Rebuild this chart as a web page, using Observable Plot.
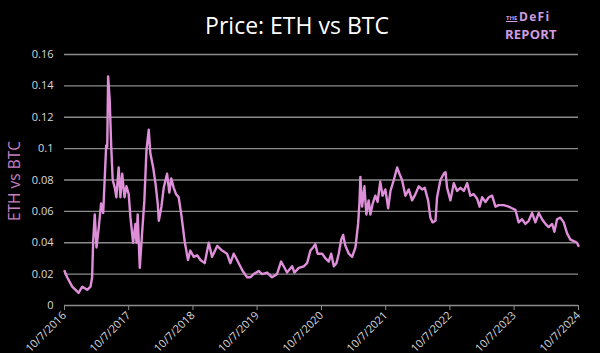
<!DOCTYPE html>
<html>
<head>
<meta charset="utf-8">
<script src="https://cdn.jsdelivr.net/npm/d3@7"></script>
<script src="https://cdn.jsdelivr.net/npm/@observablehq/plot@0.6"></script>
<style>
  html, body { margin: 0; padding: 0; background: #000; }
  #wrap { position: relative; width: 600px; height: 353px; background: #000; overflow: hidden; }
  #title { position: absolute; left: 0; width: 594px; top: 9px; text-align: center; color: #fff;
           font-family: "Open Sans", sans-serif; font-size: 23px; line-height: normal; }
  #ylab { position: absolute; left: 14px; top: 181px; transform: translate(-50%, -50%) rotate(-90deg);
          color: #c87fc2; font-family: "Open Sans", sans-serif; font-size: 15.5px; white-space: nowrap; }
  .logo { position: absolute; color: #cf9de0; font-family: "Open Sans", sans-serif; font-weight: 700;
          line-height: 1; white-space: nowrap; }
  #logoThe { left: 506px; top: 15px; font-size: 6px; text-decoration: underline; }
  #logoDefi { left: 519px; top: 11px; font-size: 12px; letter-spacing: 1.3px; }
  #logoReport { left: 505px; top: 28px; font-size: 13px; letter-spacing: 0.2px; }
  #chart { position: absolute; left: 0; top: 0; }
</style>
</head>
<body>
<div id="wrap">
  <div id="chart"></div>
  <div id="title">Price: ETH vs BTC</div>
  <div id="ylab">ETH vs BTC</div>
  <div class="logo" id="logoThe">THE</div>
  <div class="logo" id="logoDefi">DeFi</div>
  <div class="logo" id="logoReport">REPORT</div>
</div>
<script>
const dates = [
"2016-10-07","2016-10-22","2016-11-20","2016-12-26","2017-01-16","2017-02-13","2017-03-04","2017-03-13",
"2017-03-19","2017-03-28","2017-04-07","2017-04-20","2017-05-03","2017-05-15","2017-05-24","2017-06-01",
"2017-06-07","2017-06-12","2017-06-21","2017-06-29","2017-07-08","2017-07-20","2017-07-29","2017-08-11",
"2017-08-21","2017-08-31","2017-09-13","2017-09-24","2017-10-07","2017-10-17","2017-11-01","2017-11-14",
"2017-11-20","2017-11-27","2017-12-09","2017-12-22","2018-01-04","2018-01-16","2018-01-29","2018-02-07",
"2018-02-23","2018-03-08","2018-03-21","2018-03-27","2018-04-11","2018-04-24","2018-05-13","2018-05-26",
"2018-06-06","2018-06-20","2018-07-03","2018-07-18","2018-08-02","2018-08-21","2018-09-09","2018-09-22",
"2018-10-12","2018-10-31","2018-11-19","2018-12-13","2019-01-05","2019-01-24","2019-02-22","2019-03-22",
"2019-04-19","2019-05-08","2019-05-27","2019-06-15","2019-07-17","2019-08-11","2019-08-30","2019-09-17",
"2019-10-16","2019-11-04","2019-12-03","2019-12-31","2020-01-28","2020-02-20","2020-03-06","2020-03-25",
"2020-04-23","2020-05-06","2020-05-31","2020-06-28","2020-07-17","2020-08-05","2020-08-20","2020-09-02",
"2020-09-15","2020-10-11","2020-10-30","2020-11-17","2020-12-01","2020-12-16","2020-12-31","2021-01-13",
"2021-01-27","2021-02-07","2021-02-20","2021-03-11","2021-03-30","2021-04-18","2021-05-03","2021-05-11",
"2021-05-16","2021-05-26","2021-06-08","2021-06-19","2021-07-02","2021-07-12","2021-07-25","2021-08-09",
"2021-08-22","2021-09-06","2021-09-19","2021-10-05","2021-10-21","2021-11-03","2021-11-22","2021-12-11",
"2021-12-24","2022-01-08","2022-01-27","2022-02-15","2022-03-06","2022-03-25","2022-04-13","2022-05-02",
"2022-05-17","2022-06-05","2022-06-18","2022-07-01","2022-07-17","2022-07-26","2022-08-14","2022-09-02",
"2022-09-12","2022-09-21","2022-10-10","2022-10-29","2022-11-17","2022-12-06","2022-12-25","2023-01-13",
"2023-01-31","2023-02-19","2023-03-11","2023-03-25","2023-04-08","2023-04-27","2023-05-16","2023-06-04",
"2023-06-23","2023-07-11","2023-08-09","2023-09-06","2023-09-25","2023-10-14","2023-11-02","2023-11-21",
"2023-12-10","2023-12-29","2024-01-17","2024-02-05","2024-02-24","2024-03-14","2024-04-02","2024-04-20",
"2024-05-10","2024-05-23","2024-06-07","2024-06-26","2024-07-15","2024-08-03","2024-08-22","2024-09-10",
"2024-09-29","2024-10-07"
];
const ethBtc = [
0.022,0.018,0.012,0.008,0.012,0.010,0.012,0.018,
0.041,0.058,0.037,0.050,0.065,0.059,0.082,0.102,
0.101,0.146,0.131,0.103,0.080,0.075,0.069,0.088,
0.069,0.084,0.069,0.076,0.071,0.056,0.040,0.052,
0.040,0.058,0.024,0.046,0.067,0.099,0.112,0.097,
0.088,0.078,0.065,0.054,0.063,0.075,0.084,0.072,
0.081,0.075,0.071,0.069,0.058,0.041,0.029,0.035,
0.031,0.032,0.029,0.027,0.040,0.031,0.038,0.035,
0.033,0.027,0.033,0.029,0.022,0.018,0.018,0.020,
0.022,0.020,0.021,0.018,0.020,0.028,0.025,0.021,
0.025,0.021,0.024,0.025,0.027,0.035,0.037,0.039,
0.033,0.033,0.030,0.028,0.033,0.025,0.027,0.033,
0.042,0.045,0.038,0.033,0.031,0.037,0.052,0.066,
0.082,0.063,0.076,0.058,0.067,0.058,0.065,0.070,
0.066,0.079,0.070,0.074,0.062,0.073,0.080,0.088,
0.084,0.080,0.070,0.074,0.067,0.071,0.076,0.074,
0.075,0.067,0.056,0.053,0.054,0.069,0.080,0.084,
0.085,0.075,0.067,0.078,0.073,0.075,0.073,0.078,
0.070,0.071,0.068,0.063,0.069,0.066,0.069,0.070,
0.063,0.064,0.064,0.063,0.062,0.061,0.053,0.055,
0.052,0.054,0.059,0.053,0.059,0.055,0.052,0.050,
0.052,0.047,0.055,0.056,0.053,0.046,0.042,0.041,
0.040,0.038
];
const yTicks = [0, 0.02, 0.04, 0.06, 0.08, 0.1, 0.12, 0.14, 0.16];
const xTickLabels = ["10/7/2016","10/7/2017","10/7/2018","10/7/2019","10/7/2020","10/7/2021","10/7/2022","10/7/2023","10/7/2024"];

const parseMDY = s => { const [m, d, y] = s.split("/").map(Number); return new Date(Date.UTC(y, m - 1, d)); };
const xTicks = xTickLabels.map(parseMDY);
const labelOf = new Map(xTicks.map((d, i) => [+d, xTickLabels[i]]));
const series = dates.map((d, i) => ({date: new Date(d + "T00:00:00Z"), value: ethBtc[i]}));

const chart = Plot.plot({
  width: 600,
  height: 353,
  marginLeft: 64,
  marginRight: 22,
  marginTop: 54,
  marginBottom: 48,
  style: {background: "#000", color: "#d9d9d9", fontFamily: "'Open Sans', sans-serif", fontSize: "11px"},
  x: {type: "utc", domain: [xTicks[0], xTicks[xTicks.length - 1]]},
  y: {domain: [0, 0.16]},
  marks: [
    Plot.ruleY(yTicks.filter(d => d > 0), {stroke: "#8c8c8c", strokeWidth: 1.3}),
    Plot.axisY(yTicks, {tickSize: 0, tickPadding: 11, label: null, fill: "#d9d9d9",
      tickFormat: d => String(+d.toFixed(2))}),
    Plot.ruleY([0], {stroke: "#8c8c8c", strokeWidth: 1.3}),
    Plot.axisX(xTicks, {tickRotate: -45, tickSize: 5, tickPadding: 3, label: null,
      stroke: "#8c8c8c", fill: "#d9d9d9", tickFormat: d => labelOf.get(+d)}),
    Plot.lineY(series, {x: "date", y: "value", stroke: "#df8fd9", strokeWidth: 2.4, strokeLinejoin: "round"})
  ]
});
document.getElementById("chart").appendChild(chart);
</script>
</body>
</html>
